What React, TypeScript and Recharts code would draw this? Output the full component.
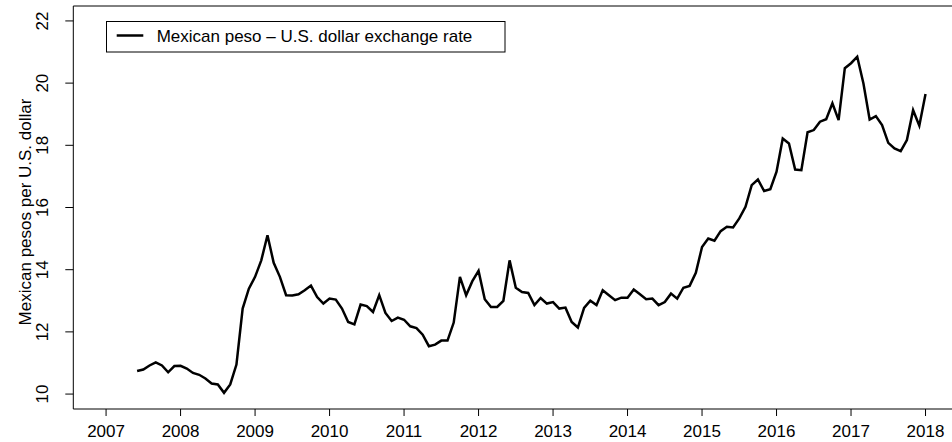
import React from 'react';
import { LineChart, Line, XAxis, YAxis, ReferenceLine } from 'recharts';

// monthly rates, first value is June 2007
const startYear = 2007;
const startMonth = 5; // 0 = January
const rates2007 = [10.74, 10.79, 10.92, 11.02, 10.92, 10.7, 10.9];
const rates2008 = [10.91, 10.82, 10.68, 10.62, 10.5, 10.34, 10.31, 10.04, 10.31, 10.95, 12.75, 13.39];
const rates2009 = [13.77, 14.3, 15.11, 14.22, 13.77, 13.18, 13.17, 13.21, 13.34, 13.49, 13.12, 12.91];
const rates2010 = [13.07, 13.04, 12.75, 12.32, 12.24, 12.88, 12.83, 12.64, 13.18, 12.61, 12.35, 12.46];
const rates2011 = [12.39, 12.18, 12.12, 11.91, 11.54, 11.59, 11.72, 11.72, 12.3, 13.77, 13.18, 13.63];
const rates2012 = [13.96, 13.05, 12.8, 12.8, 13.0, 14.3, 13.42, 13.28, 13.25, 12.86, 13.09, 12.91];
const rates2013 = [12.96, 12.75, 12.78, 12.32, 12.14, 12.77, 13.0, 12.86, 13.34, 13.18, 13.02, 13.1];
const rates2014 = [13.1, 13.36, 13.21, 13.05, 13.07, 12.86, 12.96, 13.23, 13.07, 13.42, 13.48, 13.9];
const rates2015 = [14.73, 15.0, 14.93, 15.24, 15.38, 15.36, 15.65, 16.02, 16.72, 16.9, 16.53, 16.59];
const rates2016 = [17.15, 18.22, 18.06, 17.22, 17.2, 18.42, 18.49, 18.76, 18.84, 19.35, 18.81, 20.48];
const rates2017 = [20.64, 20.85, 19.99, 18.83, 18.94, 18.65, 18.08, 17.9, 17.81, 18.17, 19.13, 18.63];
const rates2018 = [19.65];

const yearTicks = [2007, 2008, 2009, 2010, 2011, 2012, 2013, 2014, 2015, 2016, 2017, 2018];
const rateTicks = [10, 12, 14, 16, 18, 20, 22];
const seriesName = 'Mexican peso \u2013 U.S. dollar exchange rate';
const yLabel = 'Mexican pesos per U.S. dollar';

const allRates = [
  ...rates2007, ...rates2008, ...rates2009, ...rates2010, ...rates2011, ...rates2012,
  ...rates2013, ...rates2014, ...rates2015, ...rates2016, ...rates2017, ...rates2018,
];
const data = allRates.map((rate, i) => ({ t: startYear + (startMonth + i) / 12, rate }));

const FONT = '"Liberation Sans", Arial, Helvetica, sans-serif';

const XTick = ({ x, y, payload }: any) => (
  <text x={x} y={y + 21} textAnchor="middle" fontSize={17} fontFamily={FONT} fill="#000">
    {payload.value}
  </text>
);

const YTick = ({ x, y, payload }: any) => {
  const tx = x - 17;
  return (
    <text x={tx} y={y} transform={`rotate(-90 ${tx} ${y})`} textAnchor="middle" fontSize={17} fontFamily={FONT} fill="#000">
      {payload.value}
    </text>
  );
};

export default function App() {
  return (
    <div style={{ position: 'fixed', left: 0, top: 0, width: 952, height: 442, overflow: 'hidden', background: '#fff' }}>
      <LineChart width={970} height={442} data={data} margin={{ top: 6, right: 11.7, left: 0, bottom: 0 }}>
        <XAxis
          dataKey="t"
          type="number"
          domain={[2006.56, 2018.44]}
          ticks={yearTicks}
          interval={0}
          allowDataOverflow
          height={33}
          tickSize={7}
          tickMargin={0}
          stroke="#000"
          tick={<XTick />}
        />
        <YAxis
          type="number"
          domain={[9.52, 22.48]}
          ticks={rateTicks}
          interval={0}
          allowDataOverflow
          width={73.3}
          tickSize={8}
          tickMargin={0}
          stroke="#000"
          tick={<YTick />}
          label={() => (
            <text x={30.5} y={212} transform="rotate(-90 30.5 212)" textAnchor="middle" fontSize={17} fontFamily={FONT} fill="#000">
              {yLabel}
            </text>
          )}
        />
        <ReferenceLine y={22.48} stroke="#000" strokeWidth={1} />
        <Line
          type="linear"
          dataKey="rate"
          name={seriesName}
          stroke="#000"
          strokeWidth={2.5}
          dot={false}
          isAnimationActive={false}
        />
      </LineChart>
      <svg width={952} height={442} style={{ position: 'absolute', left: 0, top: 0, pointerEvents: 'none' }}>
        <rect x={106.5} y={21.5} width={398.5} height={30.5} fill="#fff" stroke="#000" strokeWidth={1} />
        <line x1={116.7} x2={143.3} y1={35.5} y2={35.5} stroke="#000" strokeWidth={2.5} />
        <text x={156.7} y={41.5} fontSize={17} fontFamily={FONT} fill="#000">
          {seriesName}
        </text>
      </svg>
    </div>
  );
}
